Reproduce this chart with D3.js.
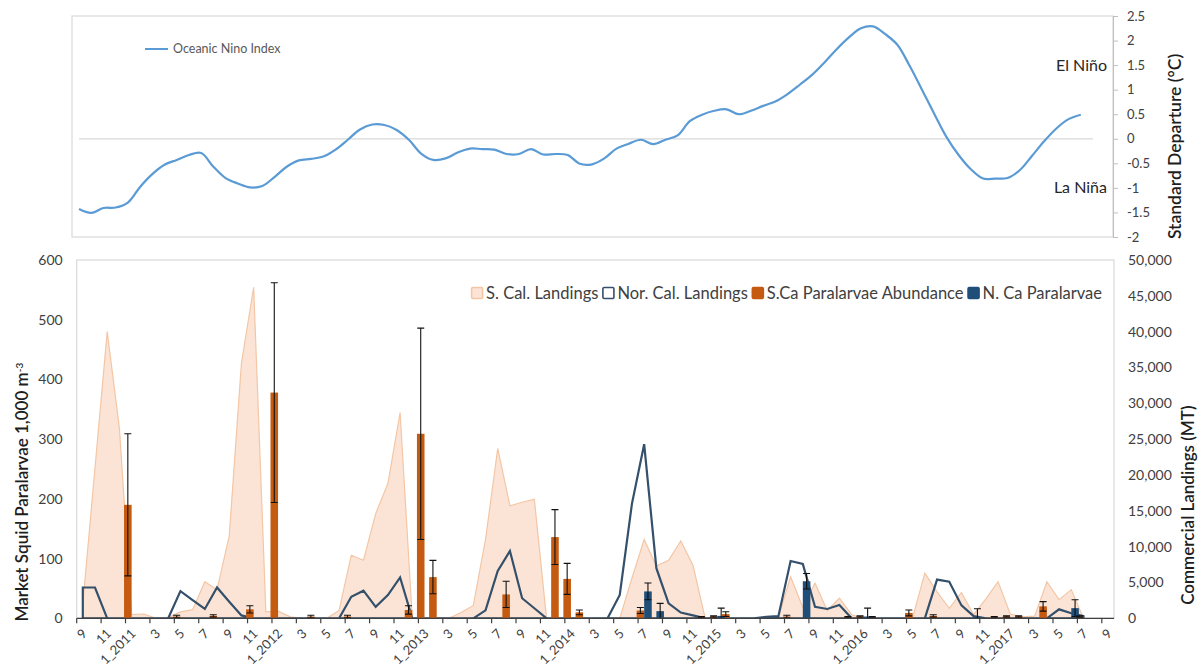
<!DOCTYPE html>
<html>
<head>
<meta charset="utf-8">
<script src="https://cdn.jsdelivr.net/npm/d3@7"></script>
<style>
  body { margin: 0; background: #fff; }
  svg { display: block; font-family: Lato, "Open Sans", sans-serif; }
</style>
</head>
<body>
<svg id="chart" width="1199" height="666"></svg>
<script>
// ---- Month categories, Sep 2010 .. Sep 2017 ----
const monthLabels = [
  "9","10","11","12",
  "1_2011","2","3","4","5","6","7","8","9","10","11","12",
  "1_2012","2","3","4","5","6","7","8","9","10","11","12",
  "1_2013","2","3","4","5","6","7","8","9","10","11","12",
  "1_2014","2","3","4","5","6","7","8","9","10","11","12",
  "1_2015","2","3","4","5","6","7","8","9","10","11","12",
  "1_2016","2","3","4","5","6","7","8","9","10","11","12",
  "1_2017","2","3","4","5","6","7","8","9"
];

// ---- Oceanic Nino Index (°C), monthly ----
const oni = [
  -1.43,-1.51,-1.41,-1.40,-1.30,-0.98,-0.72,-0.53,-0.43,-0.33,
  -0.29,-0.57,-0.80,-0.91,-0.99,-0.96,-0.78,-0.57,-0.44,-0.41,
  -0.36,-0.22,-0.02,0.19,0.29,0.28,0.18,-0.02,-0.30,-0.43,
  -0.40,-0.28,-0.20,-0.21,-0.22,-0.31,-0.31,-0.21,-0.32,-0.31,
  -0.33,-0.51,-0.52,-0.40,-0.20,-0.10,-0.02,-0.11,-0.02,0.07,
  0.36,0.49,0.57,0.60,0.50,0.57,0.67,0.76,0.91,1.10,
  1.30,1.55,1.82,2.06,2.25,2.29,2.13,1.91,1.48,1.00,
  0.51,0.04,-0.33,-0.62,-0.81,-0.81,-0.80,-0.64,-0.35,-0.05,
  0.21,0.40,0.49
];
const oniTicks = [-2,-1.5,-1,-0.5,0,0.5,1,1.5,2,2.5];

// ---- Commercial landings (MT), Sep 2010 .. Jul 2017 ----
const sCalLandings = [
  2000,21000,40000,26500,
  500,600,0,100,900,1200,5100,4000,11500,35600,46200,900,
  1000,200,0,0,0,1100,8800,8100,14600,18800,28700,0,
  0,0,0,800,1800,11000,23700,15700,16200,16600,0,0,
  0,0,0,0,0,5600,11000,7300,8100,10800,7400,0,
  0,0,0,0,0,200,5800,1500,4900,1100,2800,500,
  0,0,0,0,100,6300,3700,1400,3600,500,2700,5100,
  600,200,300,5100,2600,4000,0
];
const norCalLandings = [
  4300,4300,0,0,
  0,0,0,0,3800,2550,1300,4300,2300,400,0,0,
  0,0,0,0,0,0,3000,3850,1600,3250,5700,0,
  0,0,0,0,0,1100,6600,9400,2800,1400,0,0,
  0,0,0,0,3250,16000,24300,7000,2100,800,400,0,
  0,0,0,0,200,300,8000,7600,1600,1300,1850,0,
  0,0,0,0,0,0,5400,5100,1800,300,0,0,
  0,0,0,0,1250,700,300
];
const landingTicks = [0,5000,10000,15000,20000,25000,30000,35000,40000,45000,50000];

// ---- Paralarvae abundance (per 1,000 m^3): month index, mean, error ----
const sCaMonth = [4,8,11,14,16,19,22,27,28,29,35,39,40,41,46,51,52,53,58,63,64,65,68,70,75,76,77,79,82];
const sCaValue = [190,3,4,15,378,3,3,14,309,69,40,136,66,10,13,2,3,7,3,2,3,2,9,4,2,3,3,20,3];
const sCaError = [119,2,2,6,184,2,2,7,177,28,22,46,26,4,5,1,1,4,2,1,1,1,5,2,1,1,1,8,1];
const nCaMonth = [46,47,52,59,64,73,81];
const nCaValue = [45,12,4,62,3,2,17];
const nCaError = [14,13,13,13,14,14,14];
const larvaeTicks = [0,100,200,300,400,500,600];

// ---- Colours ----
const C = {
  oni: "#5b9bd5",
  sCalFill: "#fbe4d5",
  sCalStroke: "#f3c6a5",
  norCal: "#34506b",
  sCa: "#c55a11",
  nCa: "#1f4e79",
  grid: "#d9d9d9",
  text: "#404040",
  title: "#1e1e1e"
};

const svg = d3.select("#chart");
svg.append("rect").attr("width", 1199).attr("height", 666).attr("fill", "#fff");

// ================= Upper panel: ONI =================
const upper = { l: 72, r: 1113, t: 16, b: 237 };
const xO = d3.scaleLinear().domain([0, oni.length]).range([79, 1093]);
const yO = d3.scaleLinear().domain([-2, 2.5]).range([upper.b, upper.t]);

svg.append("rect")
  .attr("x", upper.l).attr("y", upper.t)
  .attr("width", upper.r - upper.l).attr("height", upper.b - upper.t)
  .attr("fill", "none").attr("stroke", C.grid).attr("stroke-width", 1.2);

// zero reference line
svg.append("line")
  .attr("x1", xO(0)).attr("x2", xO(oni.length))
  .attr("y1", yO(0)).attr("y2", yO(0))
  .attr("stroke", C.grid).attr("stroke-width", 1.3);

const oniAxis = svg.append("g")
  .attr("transform", `translate(${upper.r},0)`)
  .call(d3.axisRight(yO).tickValues(oniTicks).tickFormat(d => String(d))
        .tickSize(5).tickSizeOuter(0).tickPadding(9));
oniAxis.select(".domain").attr("stroke", "#bfbfbf");
oniAxis.selectAll(".tick line").attr("stroke", "#bfbfbf");
oniAxis.selectAll("text").attr("fill", C.text).style("font-size", "13px")
  .style("font-family", "Lato, sans-serif");

svg.append("path")
  .datum(oni)
  .attr("fill", "none")
  .attr("stroke", C.oni)
  .attr("stroke-width", 2.2)
  .attr("d", d3.line().x((d, i) => xO(i)).y(d => yO(d)).curve(d3.curveCatmullRom.alpha(0.5)));

svg.append("text").text("El Niño")
  .attr("x", 1107).attr("y", yO(1.5)).attr("dy", "0.35em")
  .attr("text-anchor", "end").attr("fill", "#262626").style("font-size", "16px");
svg.append("text").text("La Niña")
  .attr("x", 1107).attr("y", yO(-1)).attr("dy", "0.35em")
  .attr("text-anchor", "end").attr("fill", "#262626").style("font-size", "16px");

svg.append("text").text("Standard Departure (°C)")
  .attr("transform", `translate(1181,${(upper.t + upper.b) / 2 + 20}) rotate(-90)`)
  .attr("text-anchor", "middle").attr("fill", C.title)
  .style("font-size", "17.5px").style("font-weight", 600);

// legend
const oniLeg = svg.append("g").attr("transform", "translate(145,49)");
oniLeg.append("line").attr("x1", 0).attr("x2", 23).attr("stroke", C.oni).attr("stroke-width", 2);
oniLeg.append("text").text("Oceanic Nino Index").attr("x", 28).attr("dy", "0.35em")
  .attr("fill", "#595959").style("font-size", "12.5px");

// ================= Lower panel: landings & paralarvae =================
const lower = { l: 76.7, r: 1114, t: 260, b: 618.3 };
const x = d3.scaleBand().domain(d3.range(monthLabels.length)).range([lower.l, lower.r]).padding(0);
const yL = d3.scaleLinear().domain([0, 600]).range([lower.b, lower.t]);
const yR = d3.scaleLinear().domain([0, 50000]).range([lower.b, lower.t]);
const bw = x.bandwidth();
const cx = i => x(i) + bw / 2;

svg.append("rect")
  .attr("x", lower.l).attr("y", lower.t)
  .attr("width", lower.r - lower.l).attr("height", lower.b - lower.t)
  .attr("fill", "none").attr("stroke", C.grid).attr("stroke-width", 1.2);

svg.append("clipPath").attr("id", "plotClip")
  .append("rect").attr("x", lower.l).attr("y", lower.t)
  .attr("width", lower.r - lower.l).attr("height", lower.b - lower.t);
const plot = svg.append("g").attr("clip-path", "url(#plotClip)");

// S. Cal. landings: filled area
plot.append("path")
  .datum(sCalLandings)
  .attr("fill", C.sCalFill)
  .attr("stroke", C.sCalStroke)
  .attr("stroke-width", 1.2)
  .attr("d", d3.area().x((d, i) => cx(i)).y0(yR(0)).y1(d => yR(d)));

// Nor. Cal. landings: outlined area
plot.append("path")
  .datum(norCalLandings)
  .attr("fill", "none")
  .attr("stroke", C.norCal)
  .attr("stroke-width", 2.2)
  .attr("d", d3.area().x((d, i) => cx(i)).y0(yR(0)).y1(d => yR(d)));

// paralarvae columns (clustered: S.Ca left of centre, N.Ca right)
const barW = bw * 0.62;
const sCa = sCaMonth.map((m, k) => ({ m, v: sCaValue[k], e: sCaError[k] }));
const nCa = nCaMonth.map((m, k) => ({ m, v: nCaValue[k], e: nCaError[k] }));

plot.selectAll(".sca").data(sCa).join("rect")
  .attr("x", d => cx(d.m) - barW).attr("width", barW)
  .attr("y", d => yL(d.v)).attr("height", d => yL(0) - yL(d.v))
  .attr("fill", C.sCa);
plot.selectAll(".nca").data(nCa).join("rect")
  .attr("x", d => cx(d.m)).attr("width", barW)
  .attr("y", d => yL(d.v)).attr("height", d => yL(0) - yL(d.v))
  .attr("fill", C.nCa);

// error bars
function errorBars(data, offset) {
  const g = plot.append("g").attr("stroke", "#111").attr("stroke-width", 1.1);
  data.forEach(d => {
    const xc = cx(d.m) + offset;
    const lo = Math.max(0, d.v - d.e), hi = d.v + d.e;
    g.append("line").attr("x1", xc).attr("x2", xc).attr("y1", yL(lo)).attr("y2", yL(hi));
    g.append("line").attr("x1", xc - 3.5).attr("x2", xc + 3.5).attr("y1", yL(hi)).attr("y2", yL(hi));
    if (lo > 0) g.append("line").attr("x1", xc - 3.5).attr("x2", xc + 3.5).attr("y1", yL(lo)).attr("y2", yL(lo));
  });
}
errorBars(sCa, -barW / 2);
errorBars(nCa, barW / 2);

// left axis
const leftAxis = svg.append("g").attr("transform", `translate(${lower.l},0)`)
  .call(d3.axisLeft(yL).tickValues(larvaeTicks).tickSize(0).tickPadding(14));
leftAxis.select(".domain").remove();
leftAxis.selectAll("text").attr("fill", C.text).style("font-size", "14px")
  .style("font-family", "Lato, sans-serif");

// right axis
const rightAxis = svg.append("g").attr("transform", `translate(${lower.r},0)`)
  .call(d3.axisRight(yR).tickValues(landingTicks).tickFormat(d3.format(",")).tickSize(0).tickPadding(14));
rightAxis.select(".domain").remove();
rightAxis.selectAll("text").attr("fill", C.text).style("font-size", "14px")
  .style("font-family", "Lato, sans-serif");

// category axis: ticks at every other category boundary, labels at centres
const xAxis = svg.append("g");
xAxis.append("line").attr("x1", lower.l).attr("x2", lower.r).attr("y1", lower.b).attr("y2", lower.b)
  .attr("stroke", "#404040").attr("stroke-width", 1.3);
const tickIdx = d3.range(0, monthLabels.length + 1, 2);
xAxis.selectAll(".xt").data(tickIdx).join("line")
  .attr("x1", i => i < monthLabels.length ? x(i) : lower.r)
  .attr("x2", i => i < monthLabels.length ? x(i) : lower.r)
  .attr("y1", lower.b).attr("y2", lower.b + 5)
  .attr("stroke", "#404040").attr("stroke-width", 1.2);
xAxis.selectAll(".xl").data(d3.range(0, monthLabels.length, 2)).join("text")
  .text(i => monthLabels[i])
  .attr("transform", i => `translate(${cx(i) + 5},${lower.b + 16}) rotate(-45)`)
  .attr("text-anchor", "end")
  .attr("fill", C.text).style("font-size", "13px");

// axis titles
const lt = svg.append("text")
  .attr("transform", `translate(28,${(lower.t + lower.b) / 2 + 53}) rotate(-90)`)
  .attr("text-anchor", "middle").attr("fill", C.title)
  .style("font-size", "17px").style("font-weight", 600);
lt.append("tspan").text("Market Squid Paralarvae 1,000 m");
lt.append("tspan").text("-3").attr("dy", "-0.55em").style("font-size", "10px");

svg.append("text").text("Commercial Landings (MT)")
  .attr("transform", `translate(1194,${(lower.t + lower.b) / 2 + 66}) rotate(-90)`)
  .attr("text-anchor", "middle").attr("fill", C.title)
  .style("font-size", "17px").style("font-weight", 600);

// legend
const legendItems = [
  { label: "S. Cal. Landings", fill: C.sCalFill, stroke: C.sCalStroke },
  { label: "Nor. Cal. Landings", fill: "none", stroke: C.norCal },
  { label: "S.Ca Paralarvae Abundance", fill: C.sCa, stroke: C.sCa },
  { label: "N. Ca Paralarvae", fill: C.nCa, stroke: C.nCa }
];
const leg = svg.append("g");
let lx = 0;
legendItems.forEach(it => {
  const g = leg.append("g").attr("transform", `translate(${lx},0)`);
  g.append("rect").attr("x", 0.5).attr("y", -5.5).attr("width", 11).attr("height", 11)
    .attr("rx", 1.2).attr("fill", it.fill).attr("stroke", it.stroke).attr("stroke-width", 1.6);
  const t = g.append("text").text(it.label).attr("x", 15).attr("dy", "0.35em")
    .attr("fill", C.text).style("font-size", "16.5px");
  lx += 15 + t.node().getComputedTextLength() + 4;
});
leg.attr("transform", `translate(${1102 - (lx - 4)},293)`);
</script>
</body>
</html>
